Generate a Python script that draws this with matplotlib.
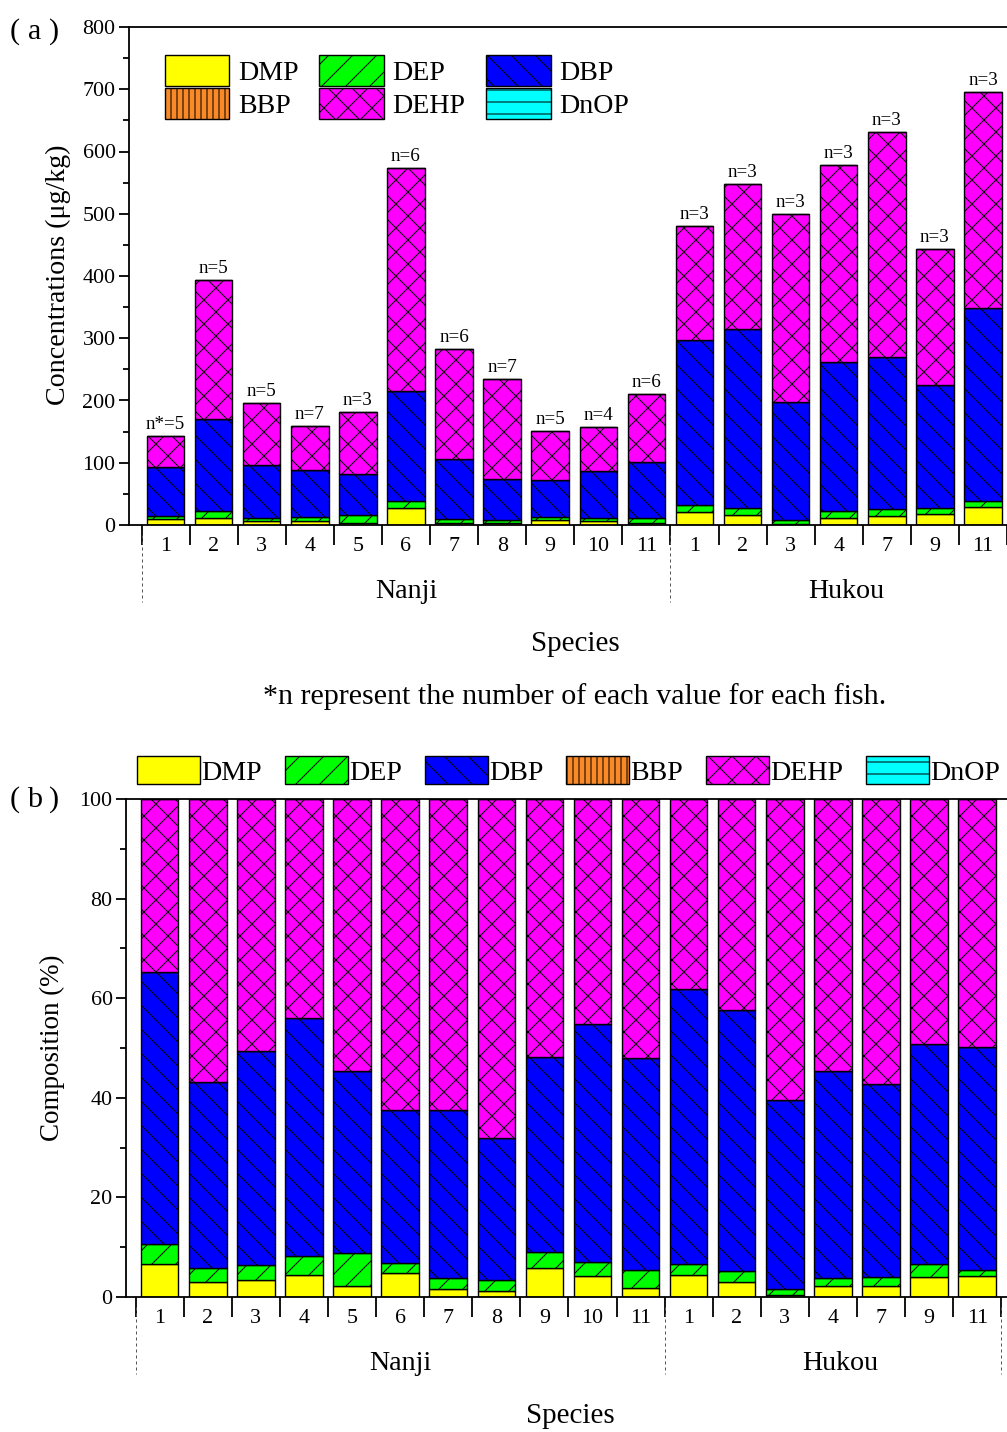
import matplotlib
matplotlib.use('Agg')
import matplotlib.pyplot as plt
from matplotlib.ticker import MultipleLocator
import numpy as np

plt.rcParams['font.family'] = ['Liberation Serif', 'Noto Sans CJK SC', 'DejaVu Sans']
plt.rcParams['hatch.linewidth'] = 1.0

# species codes at the two sites
nanji = ['1', '2', '3', '4', '5', '6', '7', '8', '9', '10', '11']
hukou = ['1', '2', '3', '4', '7', '9', '11']
species = nanji + hukou
n_labels = ['n*=5', 'n=5', 'n=5', 'n=7', 'n=3', 'n=6', 'n=6', 'n=7', 'n=5', 'n=4', 'n=6',
            'n=3', 'n=3', 'n=3', 'n=3', 'n=3', 'n=3', 'n=3']

compounds = ['DMP', 'DEP', 'DBP', 'BBP', 'DEHP', 'DnOP']
colors = {'DMP': '#FFFF00', 'DEP': '#00FF00', 'DBP': '#0000FF',
          'BBP': '#FA8A28', 'DEHP': '#FF00FF', 'DnOP': '#00FFFF'}
hatches = {'DMP': '', 'DEP': '/', 'DBP': '\\', 'BBP': '||', 'DEHP': 'x', 'DnOP': '-'}

# (a) concentrations, ug/kg
conc_dmp = [9, 12, 6, 7, 4, 28, 4, 2.5, 8, 6, 3, 21, 16, 2, 12, 14, 17, 29]
conc_dep = [5.5, 10, 6, 6, 12, 11, 6, 5, 5, 4.5, 8, 11, 12, 6, 10, 11, 11, 9]
conc_dbp = [78, 148, 85, 76, 66, 176, 96, 67, 60, 76, 90, 265, 287, 189, 240, 245, 197, 311]
conc_bbp = [0] * 18
conc_dehp = [50.5, 223, 99, 70, 100, 358, 177, 160.5, 78, 71.5, 110, 184, 232, 303, 317, 362, 219, 346]
conc_dnop = [0] * 18

# (b) composition, %
pct_dmp = [6.7, 3.1, 3.4, 4.5, 2.2, 4.9, 1.7, 1.3, 5.9, 4.2, 1.8, 4.5, 3.0, 0.4, 2.2, 2.2, 4.1, 4.3]
pct_dep = [3.9, 2.7, 3.1, 3.7, 6.6, 2.0, 2.1, 2.1, 3.1, 2.9, 3.7, 2.2, 2.3, 1.3, 1.7, 1.9, 2.5, 1.2]
pct_dbp = [54.7, 37.4, 42.9, 47.8, 36.6, 30.7, 33.8, 28.6, 39.2, 47.7, 42.5, 55.1, 52.3, 37.9, 41.5, 38.7, 44.2, 44.7]
pct_bbp = [0] * 18
pct_dehp = [34.7, 56.8, 50.6, 44.0, 54.6, 62.4, 62.4, 68.0, 51.8, 45.2, 52.0, 38.2, 42.4, 60.4, 54.6, 57.2, 49.2, 49.8]
pct_dnop = [0] * 18

W, H = 1007, 1432
fig = plt.figure(figsize=(W / 72, H / 72), dpi=72)


def stacked(ax, series):
    x = np.arange(1, len(species) + 1)
    bottom = np.zeros(len(species))
    bars = {}
    for name, vals in zip(compounds, series):
        vals = np.array(vals, dtype=float)
        bars[name] = ax.bar(x, vals, 0.78, bottom=bottom, color=colors[name],
                            hatch=hatches[name], edgecolor='black', linewidth=1.4, label=name)
        bottom = bottom + vals
    return x, bottom, bars


def dress_xaxis(ax, x, dashed_at):
    ax.set_xticks(np.arange(0.5, len(species) + 1, 1))
    ax.set_xticklabels([])
    ax.set_xticks(x, minor=True)
    ax.set_xticklabels(species, minor=True)
    ax.tick_params(axis='x', which='major', length=20, width=1.8, direction='out')
    ax.tick_params(axis='x', which='minor', length=0, pad=12, labelsize=22)
    tr = ax.get_xaxis_transform()
    ax.text(6, -0.133, 'Nanji', transform=tr, ha='center', va='center', fontsize=28)
    ax.text(15.15, -0.133, 'Hukou', transform=tr, ha='center', va='center', fontsize=28)
    for xd in dashed_at:
        ax.plot([xd, xd], [-0.02, -0.155], transform=tr, ls=(0, (3, 3)), color='#555555',
                lw=1, clip_on=False)
    ax.spines['right'].set_visible(False)
    for s in ['top', 'left', 'bottom']:
        ax.spines[s].set_linewidth(1.8)


def panel_tag(letter, y):
    # (a)/(b) with loose parentheses, as in the original
    fig.text(15 / W, 1 - y / H, '(', ha='center', va='center', fontsize=30)
    fig.text(35 / W, 1 - y / H, letter, ha='center', va='center', fontsize=30)
    fig.text(54 / W, 1 - y / H, ')', ha='center', va='center', fontsize=30)


# ---- panel (a) ----
ax1 = fig.add_axes([129 / W, 1 - 525 / H, (W - 129) / W, 498 / H])
x, tops, bars = stacked(ax1, [conc_dmp, conc_dep, conc_dbp, conc_bbp, conc_dehp, conc_dnop])
ax1.set_xlim(0.24, 18.46)
ax1.set_ylim(0, 800)
ax1.yaxis.set_major_locator(MultipleLocator(100))
ax1.yaxis.set_minor_locator(MultipleLocator(50))
ax1.tick_params(axis='y', which='major', length=10, width=1.8, labelsize=22)
ax1.tick_params(axis='y', which='minor', length=6, width=1.8)
dress_xaxis(ax1, x, [0.5, 11.5])

for xi, t, lab in zip(x, tops, n_labels):
    ax1.annotate(lab, (xi, t), xytext=(0, 3), textcoords='offset points',
                 ha='center', va='bottom', fontsize=19)

order = ['DMP', 'BBP', 'DEP', 'DEHP', 'DBP', 'DnOP']
ax1.legend([bars[k] for k in order], order, ncol=3, loc='upper left',
           bbox_to_anchor=(0.041, 0.943), frameon=False, fontsize=28, borderpad=0,
           handlelength=2.3, handleheight=1.3, handletextpad=0.3,
           columnspacing=0.75, labelspacing=0.08, borderaxespad=0)

panel_tag('a', 32)
fig.text(58 / W, 1 - 275 / H, 'Concentrations (μg/kg)', rotation=90,
         ha='center', va='center', fontsize=28)
fig.text(575 / W, 1 - 644 / H, 'Species', ha='center', va='center', fontsize=29)
fig.text(575 / W, 1 - 697 / H, '*n represent the number of each value for each fish.',
         ha='center', va='center', fontsize=30)

# ---- panel (b) ----
ax2 = fig.add_axes([126 / W, 1 - 1297 / H, (W - 126) / W, 498 / H])
x, tops, bars = stacked(ax2, [pct_dmp, pct_dep, pct_dbp, pct_bbp, pct_dehp, pct_dnop])
ax2.set_xlim(0.30, 18.62)
ax2.set_ylim(0, 100)
ax2.yaxis.set_major_locator(MultipleLocator(20))
ax2.yaxis.set_minor_locator(MultipleLocator(10))
ax2.tick_params(axis='y', which='major', length=10, width=1.8, labelsize=22)
ax2.tick_params(axis='y', which='minor', length=6, width=1.8)
dress_xaxis(ax2, x, [0.5, 11.5, 18.5])

fig.legend([bars[k] for k in compounds], compounds, ncol=6, loc='center left',
           bbox_to_anchor=(137 / W, 1 - 771 / H), frameon=False, fontsize=28, borderpad=0,
           handlelength=2.25, handleheight=1.15, handletextpad=0.05,
           columnspacing=0.81, borderaxespad=0)

panel_tag('b', 800)
fig.text(52 / W, 1 - 1048 / H, 'Composition (%)', rotation=90,
         ha='center', va='center', fontsize=27)
fig.text(570 / W, 1 - 1416 / H, 'Species', ha='center', va='center', fontsize=29)

fig.savefig('out.png', dpi=72)
